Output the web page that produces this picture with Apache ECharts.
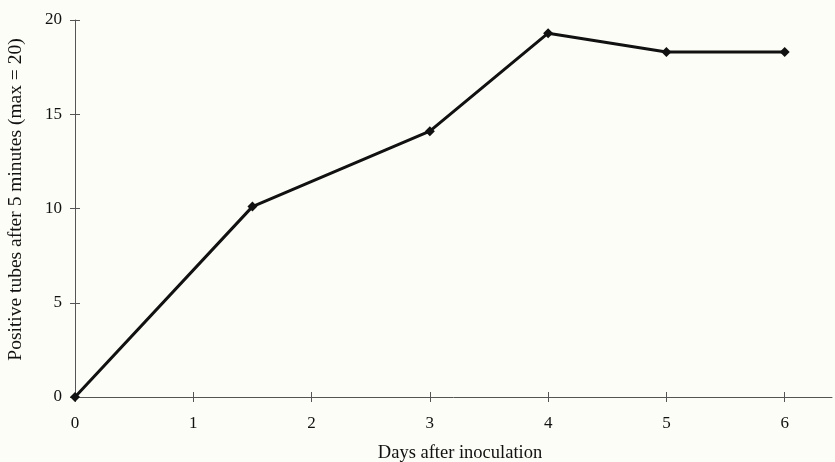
<!DOCTYPE html>
<html>
<head>
<meta charset="utf-8">
<script src="https://cdn.jsdelivr.net/npm/echarts@6/dist/echarts.min.js"></script>
<style>
  html,body{margin:0;padding:0;background:#fdfdf7;}
  #chart{width:835px;height:462px;}
</style>
</head>
<body>
<div id="chart"></div>
<script>
// data
var days = [0, 1.5, 3, 4, 5, 6];
var positiveTubes = [0, 10.1, 14.1, 19.3, 18.3, 18.3];
var xTicks = [0, 1, 2, 3, 4, 5, 6];
var yTicks = [0, 5, 10, 15, 20];

var chart = echarts.init(document.getElementById('chart'));
var font = 'Liberation Serif';
var axisColor = '#555';

var points = days.map(function (d, i) { return [d, positiveTubes[i]]; });

var option = {
  backgroundColor: '#fdfdf7',
  animation: false,
  grid: { left: 75, right: 3, top: 20, bottom: 65, outerBoundsMode: 'none', containLabel: false },
  xAxis: [{
    type: 'value',
    min: 0,
    max: 6.4,
    name: 'Days after inoculation',
    nameLocation: 'middle',
    nameGap: 47,
    nameTextStyle: { fontFamily: font, fontSize: 18.5, color: '#111', padding: [0, 0, 0, 13] },
    splitLine: { show: false },
    axisLine: { lineStyle: { color: axisColor, width: 1 } },
    axisTick: { customValues: xTicks, length: 5, lineStyle: { color: axisColor } },
    axisLabel: { customValues: xTicks, margin: 18, fontFamily: font, fontSize: 17, color: '#111' }
  }, {
    // second copy only for the inner half of the crossing ticks
    type: 'value', min: 0, max: 6.4, position: 'bottom',
    splitLine: { show: false }, axisLine: { show: false }, axisLabel: { show: false },
    axisTick: { inside: true, customValues: xTicks, length: 5, lineStyle: { color: axisColor } }
  }],
  yAxis: [{
    type: 'value',
    min: 0,
    max: 20,
    interval: 5,
    name: 'Positive tubes after 5 minutes (max = 20)',
    nameLocation: 'middle',
    nameGap: 49,
    nameTextStyle: { fontFamily: font, fontSize: 19.5, color: '#111', padding: [0, 0, 0, 18] },
    splitLine: { show: false },
    axisLine: { show: true, lineStyle: { color: axisColor, width: 1 } },
    axisTick: { show: true, customValues: yTicks, length: 5, lineStyle: { color: axisColor } },
    axisLabel: { customValues: yTicks, margin: 13, fontFamily: font, fontSize: 17, color: '#111' }
  }, {
    type: 'value', min: 0, max: 20, position: 'left',
    splitLine: { show: false }, axisLine: { show: false }, axisLabel: { show: false },
    axisTick: { show: true, inside: true, customValues: yTicks, length: 5, lineStyle: { color: axisColor } }
  }],
  series: [{
    type: 'line',
    data: points,
    symbol: 'diamond',
    symbolSize: 10,
    itemStyle: { color: '#111' },
    lineStyle: { color: '#111', width: 3 }
  }]
};

chart.setOption(option);
</script>
</body>
</html>
